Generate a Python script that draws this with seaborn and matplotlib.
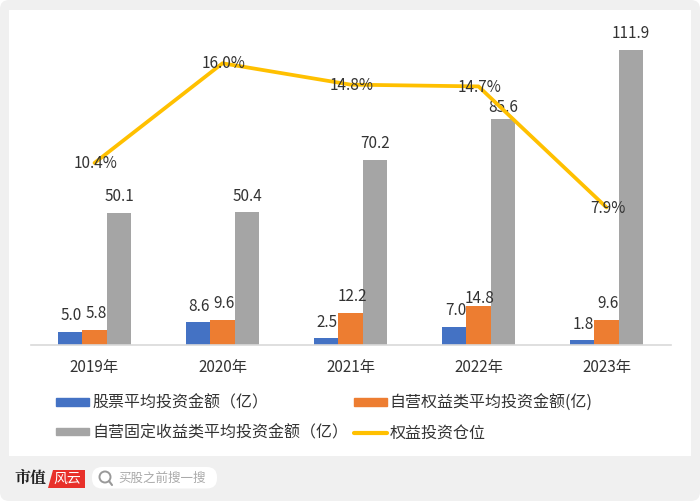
"""Average investment amounts per year with equity position line."""

import matplotlib
matplotlib.use("Agg")
import matplotlib.pyplot as plt
from matplotlib.lines import Line2D
from matplotlib.patches import Ellipse, FancyBboxPatch, Patch, Polygon, Rectangle
from matplotlib.transforms import IdentityTransform
import pandas as pd
import seaborn as sns

years = ["2019年", "2020年", "2021年", "2022年", "2023年"]
stock_avg = [5.0, 8.6, 2.5, 7.0, 1.8]
equity_avg = [5.8, 9.6, 12.2, 14.8, 9.6]
fixed_avg = [50.1, 50.4, 70.2, 85.6, 111.9]
position = [10.4, 16.0, 14.8, 14.7, 7.9]

stock_name = "股票平均投资金额（亿）"
equity_name = "自营权益类平均投资金额(亿)"
fixed_name = "自营固定收益类平均投资金额（亿）"
line_name = "权益投资仓位"

BLUE = "#4472c4"
ORANGE = "#ed7d31"
GREY = "#a5a5a5"
YELLOW = "#ffc000"
TEXT = "#333333"
W, H = 700, 501

sns.set_theme(style="white")
plt.rcParams["font.family"] = ["Noto Sans CJK SC", "DejaVu Sans"]

fig = plt.figure(figsize=(W / 100, H / 100), dpi=100, facecolor="white")


def fx(px):
    return px / W


def fy(py):
    return 1 - py / H


# grey page with rounded corners, white card on top
fig.add_artist(FancyBboxPatch((0, 0), W, H, boxstyle="round,pad=0,rounding_size=9",
                              transform=IdentityTransform(), facecolor="#f0f0f0",
                              edgecolor="none", zorder=-2))
fig.add_artist(Rectangle((fx(9), fy(456)), 682 / W, 446 / H, transform=fig.transFigure,
                         facecolor="white", edgecolor="none", zorder=-1))

ax = fig.add_axes([fx(30.5), fy(345), 640 / W, 315 / H])
ax.patch.set_alpha(0)

df = pd.DataFrame({"year": years, stock_name: stock_avg, equity_name: equity_avg, fixed_name: fixed_avg})
long_df = df.melt(id_vars="year", var_name="series", value_name="value")
sns.barplot(data=long_df, x="year", y="value", hue="series", ax=ax, palette=[BLUE, ORANGE, GREY],
            width=0.574, saturation=1, legend=False, linewidth=0)

ax.set_xlim(-0.5, 4.5)
ax.set_ylim(0, 119.5)
ax.set_xlabel("")
ax.set_ylabel("")
ax.set_yticks([])
ax.tick_params(axis="x", length=0, pad=10, labelsize=11, labelcolor=TEXT)
for side in ["top", "left", "right"]:
    ax.spines[side].set_visible(False)
ax.spines["bottom"].set_color("#d9d9d9")
ax.spines["bottom"].set_linewidth(1.2)

# labels sit at one height above the bars, except the two crowded ones in 2022
drops = [[0, 0, 0, 0, 0], [0, 0, 0, 6, 0], [0, 0, 0, 3, 0]]
shifts = [1, 1, 0]
for container, drop, shift in zip(ax.containers, drops, shifts):
    for lbl, d in zip(ax.bar_label(container, fmt="%.1f", padding=5.5, fontsize=11, color=TEXT), drop):
        lbl.xyann = (lbl.xyann[0] + shift, lbl.xyann[1] - d)

ax2 = ax.twinx()
ax2.patch.set_alpha(0)
sns.lineplot(x=years, y=position, ax=ax2, color=YELLOW, linewidth=2.7, sort=False, legend=False)
ax2.set_ylim(0.17, 17.87)
ax2.set_yticks([])
ax2.set_ylabel("")
ax2.set_xlim(-0.5, 4.5)
for side in ["top", "left", "right", "bottom"]:
    ax2.spines[side].set_visible(False)
for i, val in enumerate(position):
    ax2.annotate(f"{val:.1f}%", xy=(i, val), xytext=(1, -0.5), textcoords="offset points",
                 ha="center", va="center", fontsize=11, color=TEXT)

handles = [Patch(color=BLUE), Patch(color=GREY), Patch(color=ORANGE),
           Line2D([], [], color=YELLOW, linewidth=3)]
labels = [stock_name, fixed_name, equity_name, line_name]
fig.legend(handles, labels, ncol=2, frameon=False, fontsize=11.5, labelcolor=TEXT,
           loc="upper left", bbox_to_anchor=(fx(42), fy(380)), handlelength=2.05,
           handleheight=0.35, handletextpad=0.2, columnspacing=0.35, labelspacing=0.8)

# footer brand and search box
fig.text(fx(14), fy(478), "市值", fontsize=11.5, fontweight="bold", va="center",
         family=["Noto Serif CJK SC", "Noto Sans CJK SC"], color="#222222")
fig.add_artist(Polygon([(fx(48), fy(488)), (fx(53), fy(470)), (fx(85), fy(470)), (fx(85), fy(488))],
                       transform=fig.transFigure, facecolor="#e8302a", edgecolor="none"))
fig.text(fx(67), fy(478.5), "风云", fontsize=10, color="white", ha="center", va="center")
fig.add_artist(FancyBboxPatch((92, H - 488.5), 125, 21.5, transform=IdentityTransform(),
                              boxstyle="round,pad=0,rounding_size=10",
                              facecolor="white", edgecolor="none"))
fig.add_artist(Ellipse((fx(105), fy(477)), 11 / W, 11 / H, transform=fig.transFigure,
                       fill=False, edgecolor="#999999", linewidth=1.4))
fig.add_artist(Line2D([fx(109), fx(112)], [fy(481), fy(485)], transform=fig.transFigure,
                      color="#999999", linewidth=1.5))
fig.text(fx(118), fy(478), "买股之前搜一搜", fontsize=9, color="#aaaaaa", va="center")

fig.savefig("out.png", dpi=100, facecolor=fig.get_facecolor())
